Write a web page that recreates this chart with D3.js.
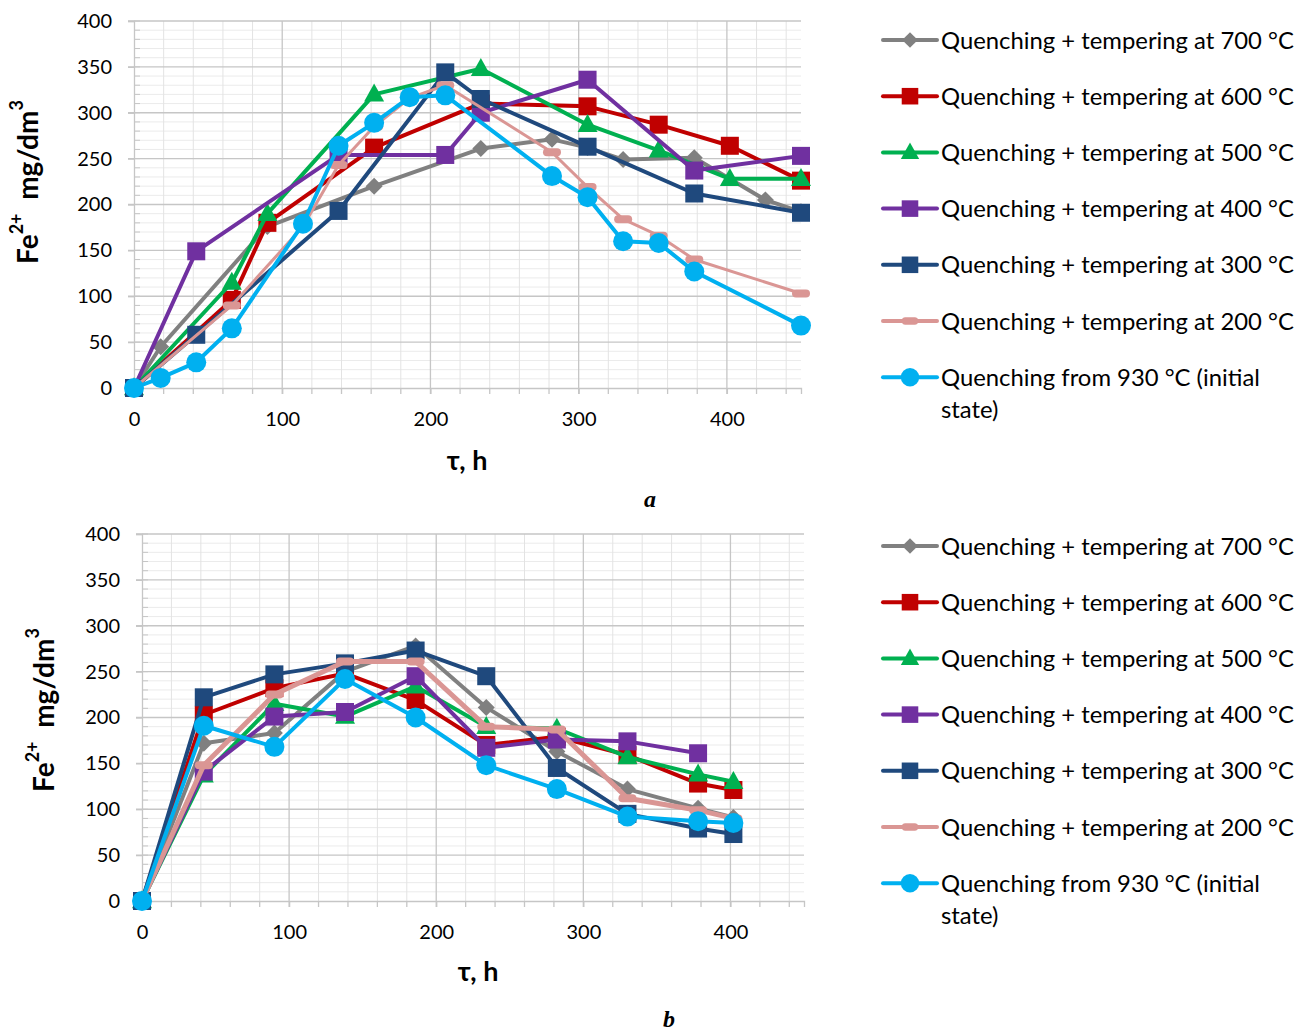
<!DOCTYPE html>
<html>
<head>
<meta charset="utf-8">
<script src="https://cdn.jsdelivr.net/npm/d3@7"></script>
<style>
  html, body { margin: 0; padding: 0; background: #fff; }
  svg { display: block; }
  text { font-family: Lato, "Open Sans", sans-serif; }
</style>
</head>
<body>
<svg id="chart" width="1305" height="1032"></svg>
<script>
// ---------------- DATA ----------------
const seriesNames = [
  "Quenching + tempering at 700 °C",
  "Quenching + tempering at 600 °C",
  "Quenching + tempering at 500 °C",
  "Quenching + tempering at 400 °C",
  "Quenching + tempering at 300 °C",
  "Quenching + tempering at 200 °C",
  "Quenching from 930 °C (initial state)"
];
const xTickValues = [0, 100, 200, 300, 400];
const yTickValues = [0, 50, 100, 150, 200, 250, 300, 350, 400];

// Chart a
const hoursA700 = [0, 18, 90, 162, 234, 282, 306, 330, 378, 426, 450];
const feA700    = [0, 45, 176, 220, 261, 271, 262, 249, 251, 205, 192];
const hoursA600 = [0, 66, 90, 162, 234, 306, 354, 402, 450];
const feA600    = [0, 96, 180, 262, 310, 307, 287, 264, 226];
const hoursA500 = [0, 66, 90, 162, 234, 306, 354, 402, 450];
const feA500    = [0, 115, 190, 320, 348, 287, 259, 228, 228];
const hoursA400 = [0, 42, 138, 210, 234, 306, 378, 450];
const feA400    = [0, 149, 254, 254, 300, 336, 237, 253];
const hoursA300 = [0, 42, 138, 210, 234, 306, 378, 450];
const feA300    = [0, 58, 193, 344, 315, 263, 212, 191];
const hoursA200 = [0, 66, 114, 138, 162, 186, 210, 282, 306, 330, 354, 378, 450];
const feA200    = [0, 90, 176, 243, 285, 316, 330, 257, 219, 184, 166, 140, 103];
const hoursAInit = [0, 18, 42, 66, 114, 138, 162, 186, 210, 282, 306, 330, 354, 378, 450];
const feAInit    = [0, 11, 28, 65, 179, 264, 289, 317, 319, 231, 208, 160, 158, 127, 68];

// Chart b
const hoursB = [0, 42, 90, 138, 186, 234, 282, 330, 378, 402];
const hoursB400 = [0, 42, 90, 138, 186, 234, 282, 330, 378];
const feB700  = [0, 172, 183, 250, 278, 211, 163, 122, 101, 91];
const feB600  = [0, 203, 232, 248, 219, 170, 179, 159, 128, 121];
const feB500  = [0, 137, 215, 201, 234, 190, 188, 157, 138, 130];
const feB400  = [0, 141, 201, 206, 245, 167, 176, 174, 161];
const feB300  = [0, 222, 247, 259, 273, 245, 145, 95, 79, 73];
const feB200  = [0, 148, 225, 261, 261, 190, 187, 112, 99, 90];
const feBInit = [0, 191, 168, 242, 200, 148, 122, 92, 87, 85];

// ---------------- STYLES ----------------
const styles = [
  { color: "#808080", marker: "diamond" },
  { color: "#C00000", marker: "square" },
  { color: "#00B050", marker: "triangle" },
  { color: "#7030A0", marker: "square" },
  { color: "#1F497D", marker: "square" },
  { color: "#DA9694", marker: "dash" },
  { color: "#00B0F0", marker: "circle" }
];

const zip = (xs, ys) => xs.map((x, i) => ({ x, y: ys[i] }));

const chartA = {
  series: [
    zip(hoursA700, feA700), zip(hoursA600, feA600), zip(hoursA500, feA500),
    zip(hoursA400, feA400), zip(hoursA300, feA300), zip(hoursA200, feA200),
    zip(hoursAInit, feAInit)
  ],
  left: 134, right: 801, top: 21, bottom: 388,
  ylabel: { x: 27, y: 182 }, xlabel: { x: 467, y: 470 },
  sub: { text: "a", x: 650, y: 507 },
  legend: { x: 883, y0: 40 },
  pinkWidth: 3
};
const chartB = {
  series: [
    zip(hoursB, feB700), zip(hoursB, feB600), zip(hoursB, feB500),
    zip(hoursB400, feB400), zip(hoursB, feB300), zip(hoursB, feB200),
    zip(hoursB, feBInit)
  ],
  left: 142, right: 804, top: 534, bottom: 901,
  ylabel: { x: 43, y: 710 }, xlabel: { x: 478, y: 981 },
  sub: { text: "b", x: 669, y: 1027 },
  legend: { x: 883, y0: 546 },
  pinkWidth: 5
};

const svg = d3.select("#chart");

function drawMarker(g, type, color, cx, cy, scale) {
  const s = scale || 1;
  if (type === "square") {
    const w = 18 * s;
    g.append("rect").attr("x", cx - w / 2).attr("y", cy - w / 2)
      .attr("width", w).attr("height", w).attr("fill", color);
  } else if (type === "diamond") {
    const r = 8.5 * s;
    g.append("path").attr("d", `M${cx},${cy - r}L${cx + r},${cy}L${cx},${cy + r}L${cx - r},${cy}Z`)
      .attr("fill", color);
  } else if (type === "triangle") {
    const w = 20 * s, h = 18 * s;
    g.append("path").attr("d", `M${cx},${cy - h * 0.6}L${cx + w / 2},${cy + h * 0.4}L${cx - w / 2},${cy + h * 0.4}Z`)
      .attr("fill", color);
  } else if (type === "circle") {
    g.append("circle").attr("cx", cx).attr("cy", cy).attr("r", 10 * s).attr("fill", color);
  } else if (type === "dash") {
    const w = 18 * s, h = 8 * s;
    g.append("rect").attr("x", cx - w / 2).attr("y", cy - h / 2)
      .attr("width", w).attr("height", h).attr("rx", h / 2).attr("fill", color);
  }
}

function drawChart(cfg) {
  const x = d3.scaleLinear().domain([0, 450]).range([cfg.left, cfg.right]);
  const y = d3.scaleLinear().domain([0, 400]).range([cfg.bottom, cfg.top]);
  const g = svg.append("g");

  // minor grid
  const grid = g.append("g");
  d3.range(10, 400, 10).filter(v => v % 50 !== 0).forEach(v => {
    grid.append("line").attr("x1", cfg.left).attr("x2", cfg.right)
      .attr("y1", y(v)).attr("y2", y(v)).attr("stroke", "#ebebeb").attr("stroke-width", 1);
  });
  d3.range(20, 451, 20).filter(v => v % 100 !== 0).forEach(v => {
    grid.append("line").attr("x1", x(v)).attr("x2", x(v))
      .attr("y1", cfg.top).attr("y2", cfg.bottom).attr("stroke", "#e3e3e3").attr("stroke-width", 1);
  });
  // major grid
  yTickValues.filter(v => v > 0).forEach(v => {
    grid.append("line").attr("x1", cfg.left - 6).attr("x2", cfg.right)
      .attr("y1", y(v)).attr("y2", y(v)).attr("stroke", "#c6c6c6").attr("stroke-width", 1.3);
  });
  xTickValues.filter(v => v > 0).forEach(v => {
    grid.append("line").attr("x1", x(v)).attr("x2", x(v))
      .attr("y1", cfg.top).attr("y2", cfg.bottom).attr("stroke", "#c6c6c6").attr("stroke-width", 1.3);
  });
  // minor y ticks inside
  d3.range(0, 401, 10).forEach(v => {
    grid.append("line").attr("x1", cfg.left).attr("x2", cfg.left + 6)
      .attr("y1", y(v)).attr("y2", y(v)).attr("stroke", "#c6c6c6").attr("stroke-width", 1);
  });
  // bottom minor ticks
  d3.range(0, 451, 20).forEach(v => {
    grid.append("line").attr("x1", x(v)).attr("x2", x(v))
      .attr("y1", cfg.bottom).attr("y2", cfg.bottom + 6).attr("stroke", "#c6c6c6").attr("stroke-width", 1.3);
  });

  // axes
  const yAxis = g.append("g").attr("transform", `translate(${cfg.left},0)`)
    .call(d3.axisLeft(y).tickValues(yTickValues).tickSize(6).tickPadding(16));
  yAxis.select(".domain").attr("stroke", "#c6c6c6").attr("stroke-width", 1.3);
  yAxis.selectAll(".tick line").attr("stroke", "#c6c6c6").attr("stroke-width", 1.3);
  yAxis.selectAll("text").attr("font-size", 20).attr("fill", "#000")
    .style("font-family", "Lato, sans-serif");

  const xAxis = g.append("g").attr("transform", `translate(0,${cfg.bottom})`)
    .call(d3.axisBottom(x).tickValues(xTickValues).tickSize(6).tickPadding(18));
  xAxis.select(".domain").attr("stroke", "#c6c6c6").attr("stroke-width", 1.3);
  xAxis.selectAll(".tick line").attr("stroke", "#c6c6c6").attr("stroke-width", 1.3);
  xAxis.selectAll("text").attr("font-size", 20).attr("fill", "#000")
    .style("font-family", "Lato, sans-serif");

  // series
  const line = d3.line().x(d => x(d.x)).y(d => y(d.y));
  cfg.series.forEach((data, i) => {
    const st = styles[i];
    const sg = g.append("g");
    sg.append("path").datum(data).attr("d", line).attr("fill", "none")
      .attr("stroke", st.color).attr("stroke-width", i === 5 ? cfg.pinkWidth : 4)
      .attr("stroke-linejoin", "round").attr("stroke-linecap", "round");
    data.forEach(d => drawMarker(sg, st.marker, st.color, x(d.x), y(d.y), 1));
  });

  // y label
  const yl = g.append("text")
    .attr("transform", `translate(${cfg.ylabel.x},${cfg.ylabel.y}) rotate(-90)`)
    .attr("text-anchor", "middle").attr("dominant-baseline", "central")
    .attr("font-size", 28).attr("font-weight", "bold").attr("fill", "#000");
  yl.append("tspan").text("Fe");
  yl.append("tspan").text("2+").attr("font-size", 18).attr("dy", -11);
  yl.append("tspan").text("\u00a0\u00a0mg/dm").attr("dy", 11);
  yl.append("tspan").text("3").attr("font-size", 18).attr("dy", -11);

  // x label
  g.append("text").attr("x", cfg.xlabel.x).attr("y", cfg.xlabel.y)
    .attr("text-anchor", "middle").attr("font-size", 27).attr("font-weight", "bold")
    .attr("fill", "#000").text("τ, h");

  // sub label
  g.append("text").attr("x", cfg.sub.x).attr("y", cfg.sub.y)
    .attr("text-anchor", "middle").attr("font-size", 24).attr("font-weight", "bold")
    .attr("font-style", "italic").style("font-family", "'Liberation Serif', 'DejaVu Serif', serif")
    .attr("fill", "#000").text(cfg.sub.text);

  // legend
  const lg = g.append("g");
  seriesNames.forEach((name, i) => {
    const st = styles[i];
    const cy = cfg.legend.y0 + i * 56.2;
    lg.append("line").attr("x1", cfg.legend.x).attr("x2", cfg.legend.x + 54)
      .attr("y1", cy).attr("y2", cy).attr("stroke", st.color).attr("stroke-width", 4)
      .attr("stroke-linecap", "round");
    drawMarker(lg, st.marker, st.color, cfg.legend.x + 27, cy, 0.92);
    const t = lg.append("text").attr("x", cfg.legend.x + 58).attr("y", cy - 1)
      .attr("dominant-baseline", "central").attr("font-size", 24).attr("fill", "#000");
    if (i === 6) {
      t.append("tspan").text("Quenching from 930 °C (initial");
      t.append("tspan").attr("x", cfg.legend.x + 58).attr("dy", 32).text("state)");
    } else {
      t.text(name);
    }
  });
  return lg;
}

const legA = drawChart(chartA);
const legB = drawChart(chartB);

// fit legend font size so the lines span the same width as the reference
[legA, legB].forEach(lg => {
  const first = lg.select("text").node();
  const len = first.getComputedTextLength();
  const fs = 24 * 353 / len;
  lg.selectAll("text").attr("font-size", fs);
});
</script>
</body>
</html>
